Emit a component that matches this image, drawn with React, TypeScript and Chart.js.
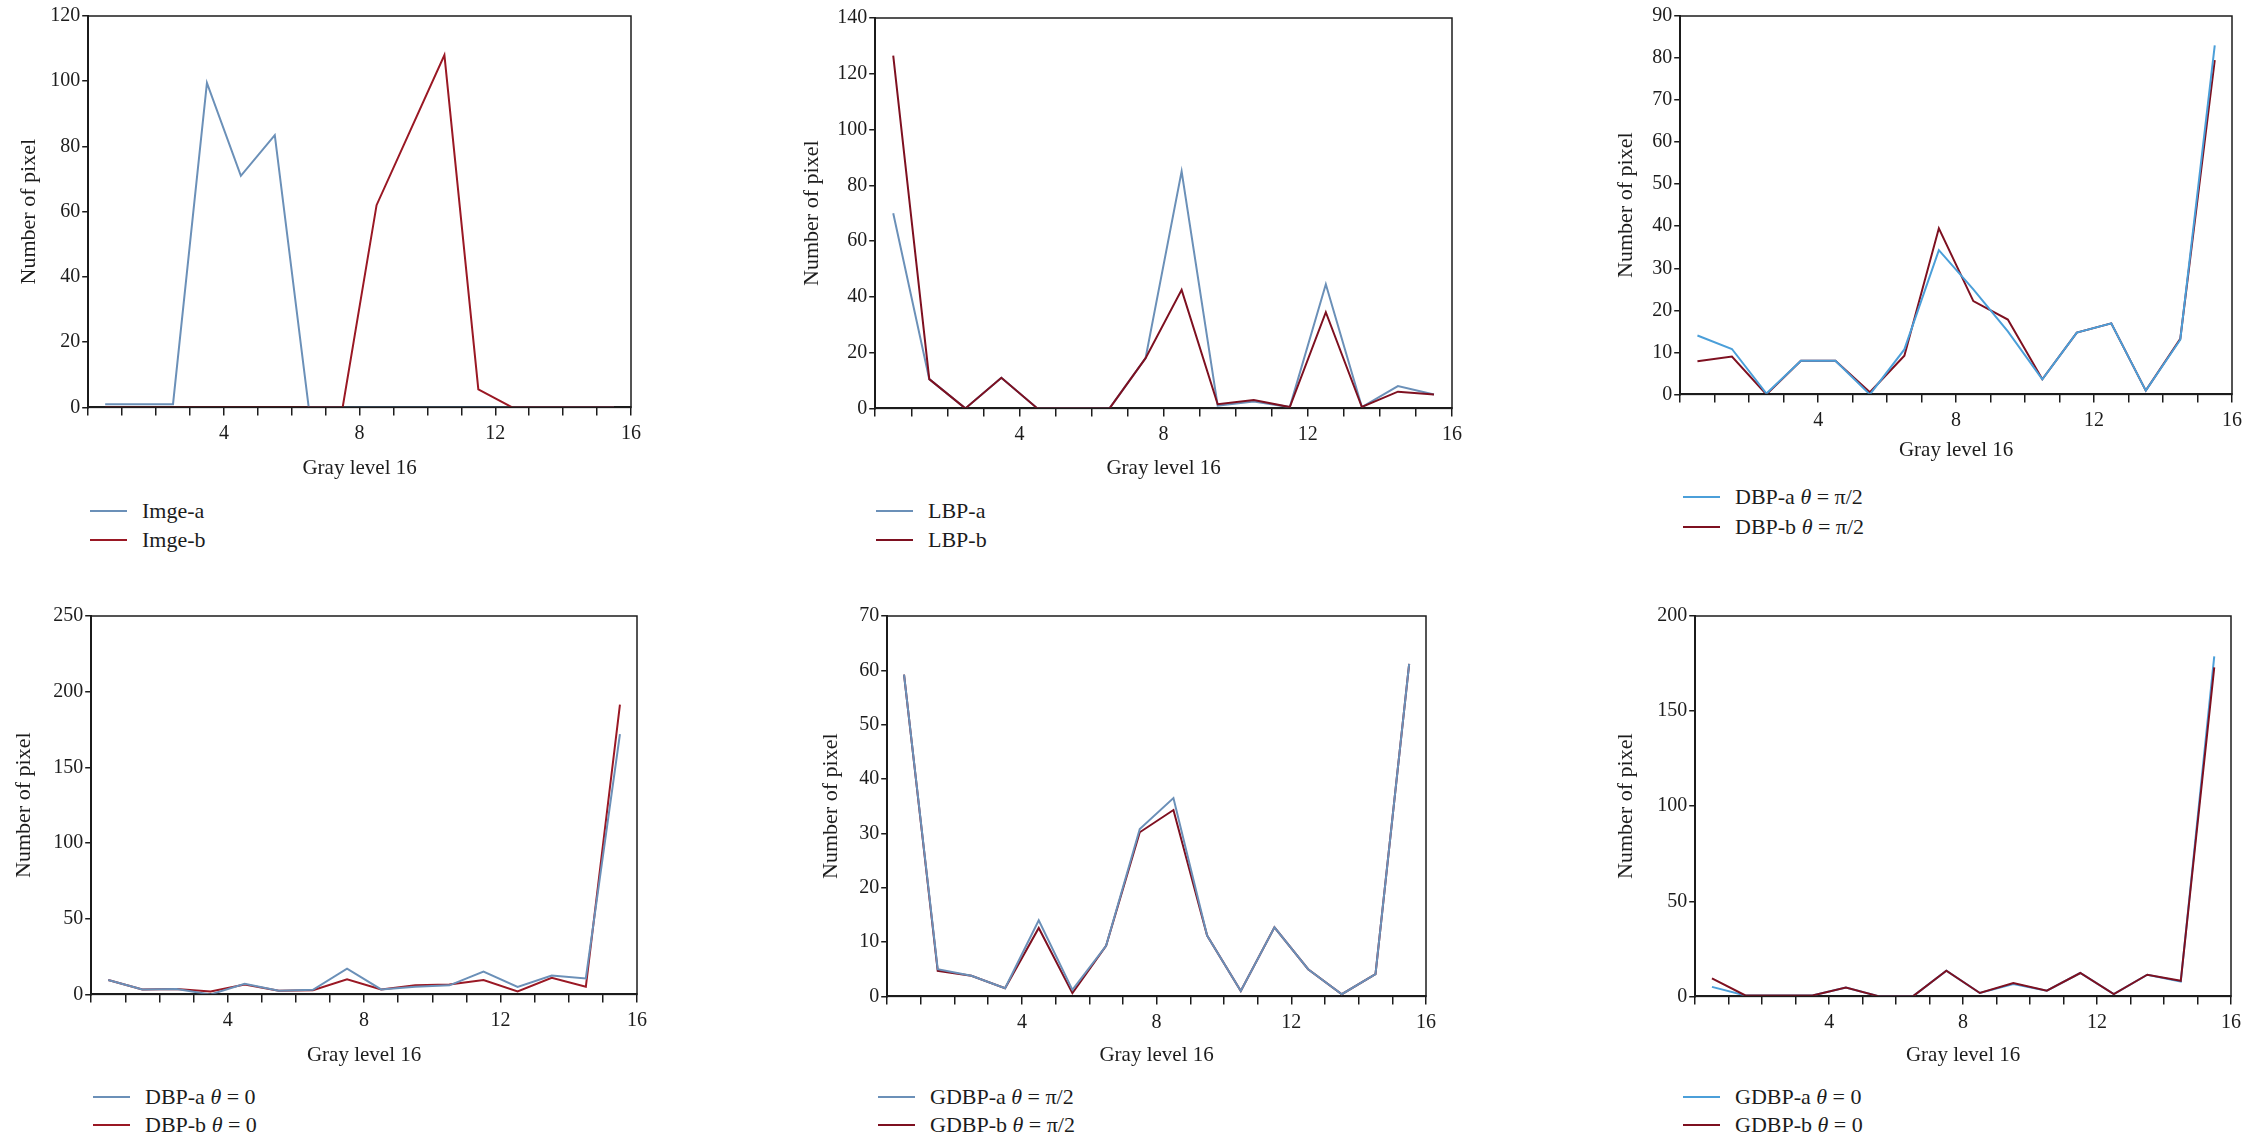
import React, { useEffect, useRef } from 'react';
import { Chart, registerables } from 'chart.js';

Chart.register(...registerables);

// ---------- data ----------
const GRAY_BINS = [0.5, 1.5, 2.5, 3.5, 4.5, 5.5, 6.5, 7.5, 8.5, 9.5, 10.5, 11.5, 12.5, 13.5, 14.5, 15.5];
const X_TICK_LABELS = [4, 8, 12, 16];
const X_TITLE = 'Gray level 16';
const Y_TITLE = 'Number of pixel';

const IMGE_A = [1, 1, 1, 99.5, 71, 83.5, 0, 0, 0, 0, 0, 0, 0, 0, 0, 0];
const IMGE_B = [0, 0, 0, 0, 0, 0, 0, 0, 62, 85, 108, 5.5, 0, 0, 0, 0];

const LBP_A = [70, 10.5, 0, 11, 0, 0, 0, 18, 85, 1, 2.5, 0.5, 44.5, 0.5, 8, 5];
const LBP_B = [126.5, 10.5, 0, 11, 0, 0, 0, 18, 42.5, 1.5, 3, 0.5, 34.5, 0.5, 6, 5];

const DBP90_A = [14, 10.8, 0.2, 8, 8, 0, 10.7, 34.3, 25, 15, 3.6, 14.7, 16.9, 0.9, 13, 83];
const DBP90_B = [7.9, 9, 0, 8, 8, 0.5, 9.2, 39.5, 22.2, 17.8, 3.6, 14.7, 16.9, 0.9, 13.2, 79.5];

const DBP0_A = [9.5, 3.3, 3.5, 0, 7, 2.4, 3, 17, 3.3, 5, 6, 15, 5, 12.5, 10.5, 172];
const DBP0_B = [9.5, 3.3, 3.5, 2, 6.5, 2.4, 2.8, 10, 3.3, 6, 6.6, 9.5, 2, 11, 5, 191.5];

const GDBP90_A = [59.2, 5, 3.8, 1.5, 14, 1.2, 9.3, 30.8, 36.5, 11.2, 1, 12.7, 5, 0.4, 4.1, 61.2];
const GDBP90_B = [59.2, 4.7, 3.8, 1.5, 12.6, 0.6, 9.3, 30.2, 34.3, 11.2, 1, 12.7, 5, 0.4, 4.1, 61.2];

const GDBP0_A = [5, 0.5, 0.5, 0.5, 4.7, 0, 0, 13.5, 1.8, 6.5, 3, 12.3, 1.2, 11.4, 7.8, 178.8];
const GDBP0_B = [9.5, 0.5, 0.5, 0.5, 4.7, 0, 0, 13.5, 1.8, 7, 3, 12.3, 1.2, 11.4, 8.2, 173];

// ---------- layout / style ----------
const FONT = "'Liberation Serif', 'Times New Roman', serif";
const INK = '#1c1c1c';

type PanelSpec = {
  L: number; R: number; T: number; B: number;
  yTitleX: number; xTitleY: number;
  yMax: number; yStep: number;
  a: number[]; b: number[];
  labelA: string; labelB: string;
  colorA: string; colorB: string;
  redOnTop: boolean;
  legendX: number; legendY: [number, number];
};

const BLUE_GREY = '#6b90b8';
const BLUE_SKY = '#4b9fd9';
const RED = '#9a1824';
const MAROON = '#7e1020';

const PANELS: PanelSpec[] = [
  { L: 88, R: 631, T: 16, B: 407, yTitleX: 29, xTitleY: 468, yMax: 120, yStep: 20,
    a: IMGE_A, b: IMGE_B, labelA: 'Imge-a', labelB: 'Imge-b',
    colorA: BLUE_GREY, colorB: RED, redOnTop: true, legendX: 90, legendY: [511, 540] },
  { L: 875, R: 1452, T: 18, B: 408, yTitleX: 812, xTitleY: 468, yMax: 140, yStep: 20,
    a: LBP_A, b: LBP_B, labelA: 'LBP-a', labelB: 'LBP-b',
    colorA: BLUE_GREY, colorB: MAROON, redOnTop: true, legendX: 876, legendY: [511, 540] },
  { L: 1680, R: 2232, T: 16, B: 394, yTitleX: 1626, xTitleY: 450, yMax: 90, yStep: 10,
    a: DBP90_A, b: DBP90_B, labelA: 'DBP-a θ = π/2', labelB: 'DBP-b θ = π/2',
    colorA: BLUE_SKY, colorB: MAROON, redOnTop: false, legendX: 1683, legendY: [497, 527] },
  { L: 91, R: 637, T: 616, B: 994, yTitleX: 24, xTitleY: 1055, yMax: 250, yStep: 50,
    a: DBP0_A, b: DBP0_B, labelA: 'DBP-a θ = 0', labelB: 'DBP-b θ = 0',
    colorA: BLUE_GREY, colorB: RED, redOnTop: false, legendX: 93, legendY: [1097, 1125] },
  { L: 887, R: 1426, T: 616, B: 996, yTitleX: 831, xTitleY: 1055, yMax: 70, yStep: 10,
    a: GDBP90_A, b: GDBP90_B, labelA: 'GDBP-a θ = π/2', labelB: 'GDBP-b θ = π/2',
    colorA: BLUE_GREY, colorB: MAROON, redOnTop: false, legendX: 878, legendY: [1097, 1125] },
  { L: 1695, R: 2231, T: 616, B: 996, yTitleX: 1626, xTitleY: 1055, yMax: 200, yStep: 50,
    a: GDBP0_A, b: GDBP0_B, labelA: 'GDBP-a θ = 0', labelB: 'GDBP-b θ = 0',
    colorA: BLUE_SKY, colorB: MAROON, redOnTop: true, legendX: 1683, legendY: [1097, 1125] },
];

const X_TITLE_SIZE = 21;
const Y_TITLE_SIZE = 22;
const TICK_SIZE = 20;
const LEGEND_SIZE = 22;
const Y_TITLE_HALF = (Y_TITLE_SIZE * 1.2) / 2;
const X_TITLE_HALF = (X_TITLE_SIZE * 1.2) / 2;
const PAD_TOP = 16;
const PAD_RIGHT = 22;

const boxPlugin = {
  id: 'frameBox',
  afterDraw(chart: any) {
    const { ctx, chartArea: a } = chart;
    ctx.save();
    ctx.strokeStyle = INK;
    ctx.lineWidth = 1.5;
    ctx.strokeRect(a.left, a.top, a.right - a.left, a.bottom - a.top);
    ctx.restore();
  },
};

function ChartPanel({ spec }: { spec: PanelSpec }) {
  const ref = useRef<HTMLCanvasElement | null>(null);
  const canvasLeft = spec.yTitleX - Y_TITLE_HALF;
  const canvasTop = spec.T - PAD_TOP;
  const yAxisW = spec.L - canvasLeft;
  const xAxisH = spec.xTitleY + X_TITLE_HALF - spec.B;
  const width = Math.round(spec.R - canvasLeft + PAD_RIGHT);
  const height = Math.round(spec.xTitleY + X_TITLE_HALF - canvasTop);

  useEffect(() => {
    if (!ref.current) return;
    const mk = (label: string, vals: number[], color: string, order: number) => ({
      label,
      data: GRAY_BINS.map((x, i) => ({ x, y: vals[i] })),
      borderColor: color,
      backgroundColor: color,
      borderWidth: 2,
      pointRadius: 0,
      tension: 0,
      fill: false,
      order,
    });
    const chart = new Chart(ref.current, {
      type: 'line',
      data: {
        datasets: [
          mk(spec.labelA, spec.a, spec.colorA, spec.redOnTop ? 1 : 0),
          mk(spec.labelB, spec.b, spec.colorB, spec.redOnTop ? 0 : 1),
        ],
      },
      options: {
        animation: false,
        responsive: false,
        devicePixelRatio: 1,
        layout: { padding: { top: PAD_TOP, right: PAD_RIGHT, left: 0, bottom: 0 } },
        plugins: { legend: { display: false }, tooltip: { enabled: false } },
        scales: {
          x: {
            type: 'linear',
            min: 0,
            max: 16,
            ticks: {
              stepSize: 1,
              autoSkip: false,
              maxRotation: 0,
              padding: 6,
              color: INK,
              font: { family: FONT, size: TICK_SIZE },
              callback: (v: any) => (X_TICK_LABELS.includes(Number(v)) ? String(v) : ''),
            },
            grid: { drawOnChartArea: false, drawTicks: true, tickLength: 8, color: INK, lineWidth: 1.5 },
            border: { display: true, color: INK, width: 2 },
            title: {
              display: true,
              text: X_TITLE,
              color: INK,
              font: { family: FONT, size: X_TITLE_SIZE },
              padding: { top: 0, bottom: 0 },
            },
            afterFit: (s: any) => { s.height = xAxisH; },
          },
          y: {
            type: 'linear',
            min: 0,
            max: spec.yMax,
            ticks: {
              stepSize: spec.yStep,
              padding: 2,
              color: INK,
              font: { family: FONT, size: TICK_SIZE },
            },
            grid: { drawOnChartArea: false, drawTicks: true, tickLength: 6, color: INK, lineWidth: 1.5 },
            border: { display: true, color: INK, width: 2 },
            title: {
              display: true,
              text: Y_TITLE,
              color: INK,
              font: { family: FONT, size: Y_TITLE_SIZE },
              padding: { top: 0, bottom: 0 },
            },
            afterFit: (s: any) => { s.width = yAxisW; },
          },
        },
      } as any,
      plugins: [boxPlugin],
    });
    return () => chart.destroy();
  }, []);

  const renderLabel = (text: string) => {
    const parts = text.split('θ');
    const out: any[] = [];
    parts.forEach((p, i) => {
      if (i > 0) out.push(<i key={'t' + i}>θ</i>);
      out.push(<span key={'p' + i}>{p}</span>);
    });
    return out;
  };

  const legendRow = (label: string, color: string, y: number, key: string) => (
    <div
      key={key}
      style={{
        position: 'absolute',
        left: spec.legendX,
        top: y - 15,
        height: 30,
        display: 'flex',
        alignItems: 'center',
        fontFamily: FONT,
        fontSize: LEGEND_SIZE,
        color: INK,
        whiteSpace: 'pre',
      }}
    >
      <span style={{ display: 'inline-block', width: 37, height: 2, background: color, marginRight: 15 }} />
      {renderLabel(label)}
    </div>
  );

  return (
    <>
      <canvas
        ref={ref}
        width={width}
        height={height}
        style={{ position: 'absolute', left: canvasLeft, top: canvasTop, width, height }}
      />
      {legendRow(spec.labelA, spec.colorA, spec.legendY[0], 'a')}
      {legendRow(spec.labelB, spec.colorB, spec.legendY[1], 'b')}
    </>
  );
}

export default function App() {
  return (
    <div
      style={{
        position: 'absolute',
        left: 0,
        top: 0,
        width: 2252,
        height: 1143,
        background: '#ffffff',
        overflow: 'hidden',
      }}
    >
      {PANELS.map((p, i) => (
        <ChartPanel key={i} spec={p} />
      ))}
    </div>
  );
}
